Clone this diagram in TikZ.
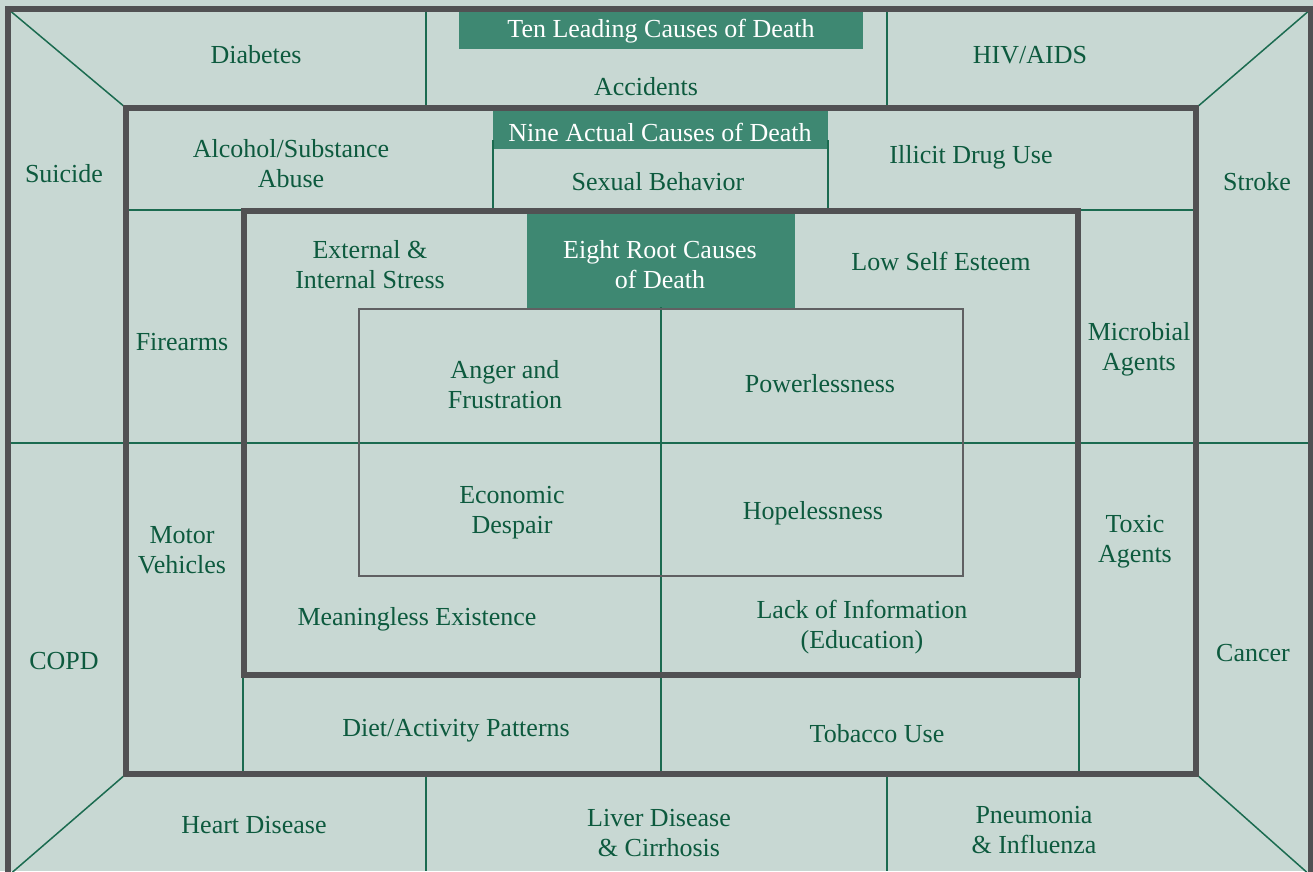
\documentclass[tikz,border=0pt]{standalone}
\usepackage{fontspec}
\setmainfont{Liberation Serif}
\definecolor{bg}{HTML}{C8D8D3}
\definecolor{hdrgreen}{HTML}{3E8872}
\definecolor{txtgreen}{HTML}{0D5A3E}
\definecolor{linegreen}{HTML}{1B6B50}
\definecolor{boxgray}{HTML}{515153}
\definecolor{innergray}{HTML}{606062}
\begin{document}
\begin{tikzpicture}[x=1pt,y=-1pt,
  lbl/.style={text=txtgreen, align=center, font=\fontsize{26}{30}\selectfont, inner sep=0pt, yshift=-3pt},
  hdr/.style={lbl, text=white},
  thinline/.style={draw=linegreen, line width=1.5pt},
  frame/.style={draw=boxgray, line width=6pt},
  cellbox/.style={draw=innergray, line width=1.5pt}]
\useasboundingbox (0,0) rectangle (1313,871);
\clip (0,0) rectangle (1313,871);
\fill[bg] (0,0) rectangle (1313,871);
% header fills
\fill[hdrgreen] (459,9) rectangle (863,49);
\fill[hdrgreen] (493,108) rectangle (828,149);
\fill[hdrgreen] (527,211) rectangle (795,309);
% corners
\coordinate (oTL) at (8,9);
\coordinate (oTR) at (1311,9);
\coordinate (oBL) at (8,876);
\coordinate (oBR) at (1311,876);
\coordinate (mTL) at (126,108);
\coordinate (mTR) at (1196,108);
\coordinate (mBL) at (126,774);
\coordinate (mBR) at (1196,774);
% thin green lines
\draw[thinline] (oTL) -- (mTL);
\draw[thinline] (oTR) -- (mTR);
\draw[thinline] (oBL) -- (mBL);
\draw[thinline] (oBR) -- (mBR);
\draw[thinline] (426,9) -- (426,108);
\draw[thinline] (887,9) -- (887,108);
\draw[thinline] (426,774) -- (426,871);
\draw[thinline] (887,774) -- (887,871);
\draw[thinline] (493,140) -- (493,211);
\draw[thinline] (828,140) -- (828,211);
\draw[thinline] (126,210) -- (258,210);
\draw[thinline] (1062,210) -- (1196,210);
\draw[thinline] (5,443) -- (1313,443);
\draw[thinline] (661,307) -- (661,774);
\draw[thinline] (243,675) -- (243,774);
\draw[thinline] (1079,675) -- (1079,774);
% inner cell box
\draw[cellbox] (359,309) rectangle (963,576);
% thick frames
\draw[frame] (oTL) rectangle (oBR);
\draw[frame] (mTL) rectangle (mBR);
\draw[frame] (244,211) rectangle (1078,675);
% labels
\node[hdr] (ten) at (661,28) {Ten Leading Causes of Death};
\node[hdr] (nine) at (660,129) {Nine Actual Causes of Death};
\node[hdr] (eight) at (660,262) {Eight Root Causes\\of Death};
\node[lbl] (diab) at (256,52) {Diabetes};
\node[lbl] (acc) at (646,84) {Accidents};
\node[lbl] (hiv) at (1030,52) {HIV/AIDS};
\node[lbl] (sui) at (64,171) {Suicide};
\node[lbl] (str) at (1257,179) {Stroke};
\node[lbl] (alc) at (291,161) {Alcohol/Substance\\Abuse};
\node[lbl] (sex) at (658,179) {Sexual Behavior};
\node[lbl] (ill) at (971,154) {Illicit Drug Use};
\node[lbl] (fire) at (182,339) {Firearms};
\node[lbl] (ext) at (370,262) {External \&\\Internal Stress};
\node[lbl] (low) at (941,258) {Low Self Esteem};
\node[lbl] (mic) at (1139,346) {Microbial\\Agents};
\node[lbl] (ang) at (505,382) {Anger and\\Frustration};
\node[lbl] (pow) at (820,381) {Powerlessness};
\node[lbl] (eco) at (512,510) {Economic\\Despair};
\node[lbl] (hop) at (813,510) {Hopelessness};
\node[lbl] (mot) at (182,547) {Motor\\Vehicles};
\node[lbl] (tox) at (1135,539) {Toxic\\Agents};
\node[lbl] (copd) at (64,658) {COPD};
\node[lbl] (can) at (1253,650) {Cancer};
\node[lbl] (mea) at (417,616) {Meaningless Existence};
\node[lbl] (lack) at (862,624) {Lack of Information\\(Education)};
\node[lbl] (diet) at (456,728) {Diet/Activity Patterns};
\node[lbl] (tob) at (877,731) {Tobacco Use};
\node[lbl] (heart) at (254,822) {Heart Disease};
\node[lbl] (liver) at (659,830) {Liver Disease\\\& Cirrhosis};
\node[lbl] (pneu) at (1034,827) {Pneumonia\\\& Influenza};
\end{tikzpicture}
\end{document}
